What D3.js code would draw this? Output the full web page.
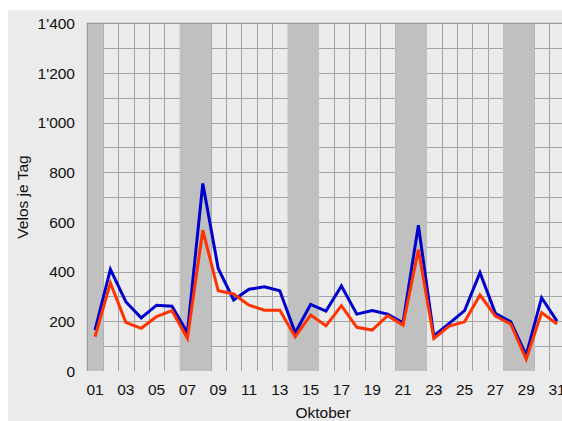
<!DOCTYPE html>
<html>
<head>
<meta charset="utf-8">
<script src="https://cdn.jsdelivr.net/npm/d3@7"></script>
<style>
  body { margin: 0; background: #fff; }
  svg text { font-family: "Liberation Sans", Arial, sans-serif; font-size: 15.5px; fill: #111; }
</style>
</head>
<body>
<div id="chart"></div>
<script>
// days of October
var days = d3.range(1, 32);
var xTickLabels = ["01","03","05","07","09","11","13","15","17","19","21","23","25","27","29","31"];
var weekendDays = [1, 7, 8, 14, 15, 21, 22, 28, 29];

// two counting series (Velos je Tag)
var blueValues = [165, 409, 279, 214, 265, 261, 154, 755, 413, 286,
                  329, 339, 323, 154, 268, 241, 342, 229, 243, 229,
                  194, 587, 141, 192, 243, 396, 232, 198, 64, 295, 201];
var redValues = [138, 355, 196, 172, 219, 243, 131, 567, 323, 310,
                 265, 245, 245, 138, 225, 182, 263, 176, 165, 223,
                 185, 489, 131, 181, 198, 306, 221, 189, 47, 235, 189];
var yTicks = [0, 200, 400, 600, 800, 1000, 1200, 1400];

var width = 562, height = 421;
var plotLeft = 87.3, plotTop = 23.3, plotBottom = 371;
var dayWidth = 15.4;

var svg = d3.select("#chart").append("svg")
    .attr("width", width)
    .attr("height", height);

// outer grey frame
svg.append("rect")
    .attr("x", 8).attr("y", 10)
    .attr("width", width - 8).attr("height", height - 10)
    .attr("fill", "#ebebeb");

var x = d3.scaleBand()
    .domain(days)
    .range([plotLeft, plotLeft + days.length * dayWidth])
    .padding(0);

var y = d3.scaleLinear()
    .domain([0, 1400])
    .range([plotBottom, plotTop]);

var fmt = d3.formatLocale({decimal: ".", thousands: "'", grouping: [3], currency: ["", ""]}).format(",d");

// horizontal grid every 100
svg.append("g").selectAll("line")
    .data(d3.range(100, 1401, 100))
    .join("line")
    .attr("x1", plotLeft).attr("x2", width)
    .attr("y1", d => Math.round(y(d)) + 0.5).attr("y2", d => Math.round(y(d)) + 0.5)
    .attr("stroke", "#a3a3a3").attr("stroke-width", 1);

// vertical grid between days
svg.append("g").selectAll("line")
    .data(days.slice(1))
    .join("line")
    .attr("x1", d => Math.round(x(d)) + 0.5).attr("x2", d => Math.round(x(d)) + 0.5)
    .attr("y1", plotTop).attr("y2", plotBottom)
    .attr("stroke", "#a3a3a3").attr("stroke-width", 1);

// weekend shading (slight overlap so neighbouring days join)
svg.append("g").selectAll("rect")
    .data(weekendDays)
    .join("rect")
    .attr("x", d => x(d))
    .attr("y", plotTop)
    .attr("width", x.bandwidth() + 0.8)
    .attr("height", plotBottom - plotTop)
    .attr("fill", "#c0c0c0");

// plot border (left + top)
svg.append("path")
    .attr("d", `M${plotLeft},${plotBottom}V${plotTop}H${width}`)
    .attr("fill", "none")
    .attr("stroke", "#9a9a9a")
    .attr("stroke-width", 1.2);

// y axis labels
svg.append("g").selectAll("text")
    .data(yTicks)
    .join("text")
    .attr("x", 75)
    .attr("y", d => y(d))
    .attr("dy", "0.36em")
    .attr("text-anchor", "end")
    .text(d => fmt(d));

// x axis labels
svg.append("g").selectAll("text")
    .data(xTickLabels)
    .join("text")
    .attr("x", d => x(+d) + x.bandwidth() / 2)
    .attr("y", 395)
    .attr("text-anchor", "middle")
    .text(d => d);

// axis titles
svg.append("text")
    .attr("transform", "translate(28,197) rotate(-90)")
    .attr("text-anchor", "middle")
    .text("Velos je Tag");

svg.append("text")
    .attr("x", 323)
    .attr("y", 418)
    .attr("text-anchor", "middle")
    .text("Oktober");

// lines
var line = d3.line()
    .x((d, i) => x(days[i]) + x.bandwidth() / 2)
    .y(d => y(d));

svg.append("path")
    .datum(blueValues)
    .attr("d", line)
    .attr("fill", "none")
    .attr("stroke", "#0000cc")
    .attr("stroke-width", 3);

svg.append("path")
    .datum(redValues)
    .attr("d", line)
    .attr("fill", "none")
    .attr("stroke", "#ff3300")
    .attr("stroke-width", 3);
</script>
</body>
</html>
